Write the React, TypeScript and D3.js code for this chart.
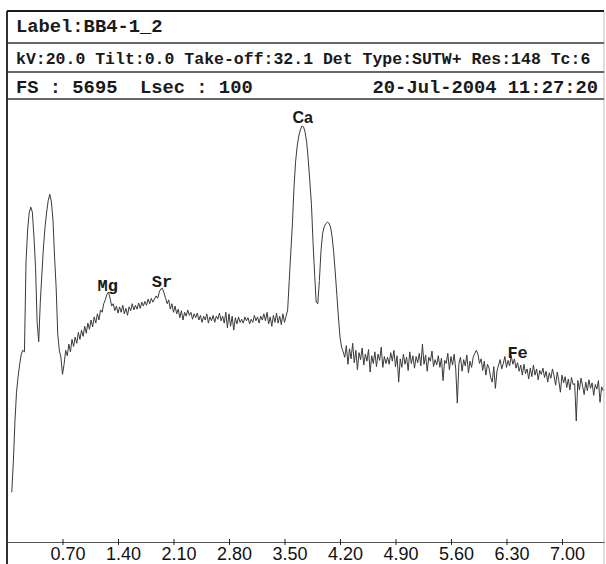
import React, { useEffect, useRef } from 'react';
import * as d3 from 'd3';

// channel calibration of the spectrum
const startKeV = 0.06;
const keVPerChannel = 0.02;

// counts per channel (10 channels per row)
const counts = [
  640, 1030, 1550, 1930, 2130, 2290, 2420, 2470, 2450, 3610, // 0.06
  4020, 4240, 4315, 4250, 3930, 3540, 2830, 2580, 3090, 3450, // 0.26
  3800, 4060, 4250, 4400, 4480, 4380, 4150, 3670, 3280, 2680, // 0.46
  2470, 2380, 2160, 2290, 2470, 2400, 2550, 2450, 2610, 2520, // 0.66
  2640, 2560, 2700, 2610, 2730, 2650, 2780, 2690, 2820, 2740, // 0.86
  2860, 2770, 2900, 2820, 2940, 2860, 2990, 2960, 3070, 3120, // 1.06
  3190, 3220, 3140, 3040, 3070, 2980, 3040, 2950, 3030, 2960, // 1.26
  3050, 2940, 3010, 2920, 3030, 2980, 3070, 2990, 3050, 3000, // 1.46
  3080, 3010, 3090, 3040, 3100, 3050, 3130, 3070, 3140, 3090, // 1.66
  3130, 3170, 3140, 3220, 3260, 3270, 3210, 3140, 3070, 3120, // 1.86
  3000, 3070, 2960, 3040, 2940, 3000, 2890, 2980, 2860, 2960, // 2.06
  2910, 2990, 2920, 2960, 2870, 2940, 2890, 2950, 2860, 2920, // 2.26
  2830, 2910, 2860, 2940, 2820, 2900, 2850, 2920, 2830, 2910, // 2.46
  2870, 2950, 2850, 2910, 2820, 2960, 2760, 2940, 2780, 2910, // 2.66
  2730, 2890, 2810, 2900, 2830, 2870, 2820, 2900, 2850, 2890, // 2.86
  2810, 2870, 2830, 2920, 2850, 2900, 2820, 2910, 2860, 2940, // 3.06
  2850, 2960, 2810, 2900, 2780, 2920, 2830, 2950, 2820, 2910, // 3.26
  2800, 2940, 2830, 2910, 2990, 3370, 3740, 4100, 4570, 4900, // 3.46
  5100, 5230, 5310, 5360, 5350, 5280, 5150, 4920, 4640, 4350, // 3.66
  3860, 3450, 3090, 3070, 3370, 3740, 3970, 4060, 4100, 4120, // 3.86
  4110, 4060, 3940, 3740, 3480, 3190, 2900, 2640, 2510, 2450, // 4.06
  2380, 2530, 2290, 2490, 2360, 2560, 2310, 2470, 2220, 2440, // 4.26
  2350, 2500, 2280, 2420, 2330, 2480, 2190, 2400, 2300, 2450, // 4.46
  2260, 2420, 2340, 2510, 2250, 2390, 2300, 2380, 2290, 2440, // 4.66
  2330, 2470, 2260, 2400, 2060, 2360, 2250, 2420, 2290, 2380, // 4.86
  2210, 2450, 2300, 2400, 2240, 2390, 2310, 2430, 2270, 2550, // 5.06
  2290, 2410, 2200, 2380, 2330, 2460, 2260, 2350, 2280, 2400, // 5.26
  2250, 2370, 2080, 2340, 2300, 2430, 2220, 2390, 2280, 2420, // 5.46
  2230, 1790, 2300, 2380, 2200, 2350, 2270, 2410, 2180, 2330, // 5.66
  2250, 2380, 2430, 2470, 2420, 2300, 2360, 2210, 2330, 2150, // 5.86
  2290, 2240, 2120, 2060, 2260, 1980, 2200, 2280, 2350, 2230, // 6.06
  2300, 2390, 2250, 2340, 2270, 2400, 2290, 2360, 2240, 2310, // 6.26
  2200, 2280, 2150, 2290, 2170, 2230, 2100, 2240, 2130, 2280, // 6.46
  2150, 2230, 2090, 2210, 2160, 2240, 2120, 2200, 2060, 2180, // 6.66
  2110, 2230, 2140, 2020, 2190, 2080, 1930, 2150, 2050, 2130, // 6.86
  1990, 2100, 1960, 2120, 2030, 2040, 1560, 2080, 1960, 2110, // 7.06
  2010, 1900, 2060, 1950, 2090, 1980, 2050, 1890, 2030, 1970, // 7.26
  2080, 1800, 2000, 1950, // 7.46
];

const fullScale = 5695;
const maxKeV = 7.53;
const tickValues = [0.7, 1.4, 2.1, 2.8, 3.5, 4.2, 4.9, 5.6, 6.3, 7.0];

const peakNames = ['Mg', 'Sr', 'Ca', 'Fe'];
const peakKeV = [1.27, 1.955, 3.73, 6.44];
const peakLabelCounts = [3240, 3290, 5400, 2370];

const headerLines = [
  'Label:BB4-1_2',
  'kV:20.0 Tilt:0.0 Take-off:32.1 Det Type:SUTW+ Res:148 Tc:6',
  'FS : 5695  Lsec : 100',
];
const headerDate = '20-Jul-2004 11:27:20';

const App: React.FC = () => {
  const chartRef = useRef<SVGSVGElement | null>(null);

  useEffect(() => {
    drawChart();
  }, []);

  const drawChart = () => {
    const width = 606;
    const height = 564;
    const left = 7;
    const right = 604;
    const top = 11;
    const rows = [43, 72, 99];
    const plotTop = 100;
    const plotBottom = 542;

    const svg = d3.select(chartRef.current);
    svg.selectAll('*').remove();
    svg.attr('width', width).attr('height', height);

    svg.append('rect').attr('width', width).attr('height', height).attr('fill', '#fff');

    const x = d3.scaleLinear().domain([0, maxKeV]).range([left, right]);
    const y = d3.scaleLinear().domain([0, fullScale]).range([plotBottom, plotTop]);

    // frame and header rows
    svg.append('line').attr('x1', left).attr('x2', left).attr('y1', top).attr('y2', height)
      .attr('stroke', '#1a1a1a').attr('stroke-width', 1.8);
    svg.append('line').attr('x1', right).attr('x2', right).attr('y1', top).attr('y2', height)
      .attr('stroke', '#bbb').attr('stroke-width', 1);
    svg.append('line').attr('x1', left).attr('x2', right).attr('y1', top).attr('y2', top)
      .attr('stroke', '#1a1a1a').attr('stroke-width', 1.8);
    rows.forEach((ry) => {
      svg.append('line').attr('x1', left).attr('x2', right).attr('y1', ry).attr('y2', ry)
        .attr('stroke', '#333').attr('stroke-width', 1.3);
    });

    const baselines = [32, 64, 93];
    const sizes = [18.8, 16.5, 18.8];
    headerLines.forEach((t, i) => {
      svg.append('text')
        .attr('x', 16)
        .attr('y', baselines[i])
        .style('font-family', '"Liberation Mono", monospace')
        .style('font-size', `${sizes[i]}px`)
        .style('font-weight', 'bold')
        .style('white-space', 'pre')
        .attr('fill', '#1a1a1a')
        .text(t);
    });
    svg.append('text')
      .attr('x', 598)
      .attr('y', 93)
      .attr('text-anchor', 'end')
      .style('font-family', '"Liberation Mono", monospace')
      .style('font-size', '18.8px')
      .style('font-weight', 'bold')
      .attr('fill', '#1a1a1a')
      .text(headerDate);

    // energy axis
    const axis = svg.append('g')
      .attr('transform', `translate(0, ${plotBottom})`)
      .call(d3.axisBottom(x).tickValues(tickValues).tickSizeOuter(0).tickFormat(d3.format('.2f')));
    axis.select('.domain').attr('stroke', '#555').attr('stroke-width', 1.2);
    axis.selectAll('.tick line').attr('y1', -3).attr('y2', 3).attr('stroke', '#222');
    axis.selectAll('.tick text')
      .attr('y', 18)
      .attr('dy', 0)
      .attr('dx', 5)
      .attr('fill', '#111')
      .style('font-family', '"Liberation Sans", Arial, sans-serif')
      .style('font-size', '18px');

    // spectrum trace
    const data = counts.map((c, i) => ({ keV: startKeV + i * keVPerChannel, count: c }));
    const trace = d3.line<{ keV: number; count: number }>()
      .x((d) => x(d.keV))
      .y((d) => y(d.count));
    svg.append('path').datum(data).attr('d', trace)
      .attr('fill', 'none').attr('stroke', '#3a3a3a').attr('stroke-width', 1);

    // element labels
    peakNames.forEach((name, i) => {
      svg.append('text')
        .attr('x', x(peakKeV[i]))
        .attr('y', y(peakLabelCounts[i]))
        .attr('text-anchor', 'middle')
        .style('font-family', name === 'Ca' ? '"Liberation Sans", Arial, sans-serif' : '"Liberation Mono", monospace')
        .style('font-size', name === 'Ca' ? '16px' : '17px')
        .style('font-weight', 'bold')
        .attr('fill', '#1a1a1a')
        .text(name);
    });
  };

  return <svg ref={chartRef} style={{ position: 'absolute', left: 0, top: 0, display: 'block' }} />;
};

export default App;
